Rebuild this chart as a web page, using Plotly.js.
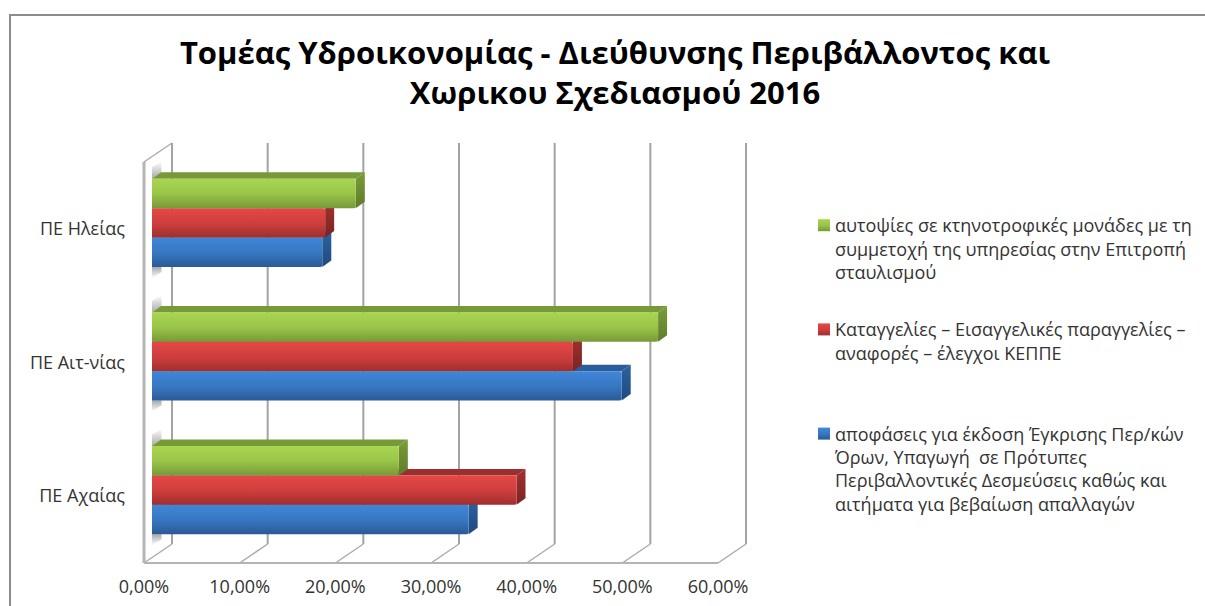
<!DOCTYPE html>
<html><head><meta charset="utf-8">
<script src="https://cdn.plot.ly/plotly-3.0.1.min.js"></script>
<style>html,body{margin:0;padding:0;background:#fff}</style></head>
<body><div id="chart" style="width:1205px;height:606px"></div>
<script>
const categories = ["ΠΕ Αχαίας", "ΠΕ Αιτ-νίας", "ΠΕ Ηλείας"];
const seriesBlue = [33.1, 49.1, 17.8];
const seriesRed = [38.1, 44.0, 18.1];
const seriesGreen = [25.8, 52.9, 21.3];
const nameBlue = "αποφάσεις για έκδοση Έγκρισης Περ/κών<br>Όρων, Υπαγωγή  σε Πρότυπες<br>Περιβαλλοντικές Δεσμεύσεις καθώς και<br>αιτήματα για βεβαίωση απαλλαγών";
const nameRed = "Καταγγελίες – Εισαγγελικές παραγγελίες –<br>αναφορές – έλεγχοι ΚΕΠΠΕ<br> ";
const nameGreen = "αυτοψίες σε κτηνοτροφικές μονάδες με τη<br>συμμετοχή της υπηρεσίας στην Επιτροπή<br>σταυλισμού";
const titleText = "Τομέας Υδροικονομίας - Διεύθυνσης Περιβάλλοντος και<br>Χωρικου Σχεδιασμού 2016";
const xTicks = [0,10,20,30,40,50,60];
const xTickLabels = ["0,00%","10,00%","20,00%","30,00%","40,00%","50,00%","60,00%"];

const W=1205,H=606,FONT='"Open Sans", sans-serif';
const pxX=60/574, pxY=3/401;
const PAD=40;
const planeX=(l,r)=>({domain:[(l-PAD)/W,(r+PAD)/W],range:[-PAD*pxX,60+PAD*pxX]});
const planeY=(t,b)=>({domain:[1-(b+PAD)/H,1-(t-PAD)/H],range:[-0.5-PAD*pxY,2.5+PAD*pxY]});
const yIdx=categories.map((_,i)=>i);
const GAP=0.34, bw=(1-GAP)/3;
const D=9*pxX, E=6.5*pxY;
const grad={
 blueF:{c:'#3a7bc8',s:['#4086d8','#3878c3','#2a5a96']},
 redF:{c:'#d94140',s:['#e44846','#cf3f3d','#9f2f2e']},
 greenF:{c:'#9fca4c',s:['#a9d551','#9ac548','#779a38']},
 blueS:{c:'#24538d',s:['#2c639f','#1f4a7e']},
 redS:{c:'#8f2a2a',s:['#a23130','#7a2423']},
 greenS:{c:'#6b8b32',s:['#7a9c38','#5f7c2c']},
 shUp:{c:'#b0b0b1',s:['#ffffff','#a8a8a8']},
 shDn:{c:'#b0b0b2',s:['#a8a8a8','#ffffff']}
};
const topCol=['#2a5d99','#9c2f2e','#779a38'];
const sideKey=['blueS','redS','greenS'];
const all=[seriesBlue,seriesRed,seriesGreen];
const shapes=[];
yIdx.forEach(c=>{
  const yT=c+1.5*bw, yB=c-1.5*bw;
  shapes.push({type:'path',xref:'x3',yref:'y3',layer:'below',line:{width:0},fillcolor:grad.shUp.c,
    path:`M0,${yT}L${D+0.5*pxX},${yT+E}L${D+0.5*pxX},${yT+E+11*pxY}L0,${yT+E+5*pxY}Z`});
  shapes.push({type:'path',xref:'x3',yref:'y3',layer:'below',line:{width:0},fillcolor:grad.shDn.c,
    path:`M0,${yB}L${D+0.5*pxX},${yB}L${D+0.5*pxX},${yB-5*pxY}L0,${yB-11*pxY}Z`});
});
all.forEach((s,si)=>{s.forEach((v,c)=>{
  const y0=c+(si-1)*bw-bw/2,y1=y0+bw;
  shapes.push({type:'path',xref:'x3',yref:'y3',layer:'below',line:{width:0},fillcolor:topCol[si],
    path:`M0,${y1}L${D},${y1+E}L${v+D},${y1+E}L${v},${y1}Z`});
  shapes.push({type:'path',xref:'x3',yref:'y3',layer:'below',line:{width:0},fillcolor:grad[sideKey[si]].c,
    path:`M${v},${y0}L${v+D},${y0+E}L${v+D},${y1+E}L${v},${y1}Z`});
});});
const wall='#ababab';
const Bx=28*pxX, By=19*pxY;
const fl=(x0,x1,y0,y1,c,w)=>shapes.push({type:'line',xref:'x',yref:'y',layer:'below',x0,x1,y0,y1,line:{color:c||wall,width:w||2}});
xTicks.forEach(t=>fl(t,t+Bx,-0.5,-0.5+By,wall,1.5));
fl(0,60,-0.5,-0.5,'#b4b4b4',2);
fl(0,0,-0.5,2.5,'#b4b4b4',3);
fl(0,Bx,2.5,2.5+By,wall,1.5);
xTicks.forEach(t=>shapes.push({type:'line',xref:'x2',yref:'y2',layer:'below',x0:t,x1:t,y0:-0.5,y1:2.5,line:{color:'#a3a3a3',width:2}}));
shapes.push({type:'rect',xref:'paper',yref:'paper',x0:10/W,x1:1300/W,y0:1-15/H,y1:-0.1,line:{color:'#8c8c8c',width:2},fillcolor:'rgba(0,0,0,0)'});

const bar=(s,name,c,g,r)=>({type:'bar',orientation:'h',x:s,y:yIdx,name:name,xaxis:'x3',yaxis:'y3',legendgroup:g,legendrank:r,
  marker:{color:c,line:{width:0},cornerradius:2},hoverinfo:'x+y'});
const traces=[bar(seriesBlue,nameBlue,grad.blueF.c,'a',3),bar(seriesRed,nameRed,grad.redF.c,'b',2),bar(seriesGreen,nameGreen,grad.greenF.c,'c',1)];
[['x','y'],['x2','y2'],['x4','y4']].forEach(a=>traces.push({type:'scatter',x:[0],y:[0],xaxis:a[0],yaxis:a[1],mode:'none',showlegend:false,hoverinfo:'skip'}));

const tickF={family:FONT,size:18,color:'#333333'};
const bare={showticklabels:false,ticks:'',showgrid:false,zeroline:false,showline:false};
const layout={width:W,height:H,margin:{l:0,r:0,t:0,b:0},paper_bgcolor:'#fff',plot_bgcolor:'rgba(0,0,0,0)',
 title:{text:titleText,font:{family:FONT,size:31,color:'#000',weight:700},x:615/W,xanchor:'center',y:1-64/H,yanchor:'middle'},
 barmode:'group',bargap:GAP,bargroupgap:0,showlegend:true,
 legend:{x:795/W,xanchor:'left',y:1-207/H,yanchor:'top',traceorder:'grouped',tracegroupgap:31,bgcolor:'rgba(0,0,0,0)',
   font:{family:FONT,size:18,color:'#333333'},itemclick:false,itemdoubleclick:false},
 xaxis:Object.assign(planeX(144,718),{anchor:'y'},bare),
 yaxis:Object.assign(planeY(162,563),{anchor:'x'},bare),
 xaxis2:Object.assign(planeX(172,746),{anchor:'y2'},bare),
 yaxis2:Object.assign(planeY(143,544),{anchor:'x2'},bare),
 xaxis3:Object.assign(planeX(152,726),{anchor:'y3'},bare),
 yaxis3:Object.assign(planeY(156,557),{anchor:'x3'},bare),
 xaxis4:{domain:[144/W,718/W],range:[0,60],anchor:'y4',tickvals:xTicks,ticktext:xTickLabels,ticks:'',showgrid:false,showline:false,zeroline:false,tickfont:tickF,ticklabelstandoff:11},
 yaxis4:{domain:[1-563/H,1-162/H],range:[-0.5,2.5],anchor:'x4',tickvals:yIdx,ticktext:categories,ticks:'',showgrid:false,showline:false,zeroline:false,tickfont:tickF,ticklabelstandoff:18},
 shapes:shapes};

function toRgb(h){const n=parseInt(h.slice(1),16);return `rgb(${n>>16}, ${(n>>8)&255}, ${n&255})`;}
Plotly.newPlot('chart',traces,layout,{displayModeBar:false}).then(gd=>{
  const NS='http://www.w3.org/2000/svg', svg=gd.querySelector('svg.main-svg');
  const defs=svg.querySelector('defs')||svg.appendChild(document.createElementNS(NS,'defs'));
  const map={};
  Object.keys(grad).forEach(k=>{
    const g=document.createElementNS(NS,'linearGradient');
    g.setAttribute('id','g-'+k);g.setAttribute('x1','0');g.setAttribute('x2','0');g.setAttribute('y1','0');g.setAttribute('y2','1');
    grad[k].s.forEach((c,i,a)=>{const st=document.createElementNS(NS,'stop');st.setAttribute('offset',i/(a.length-1));st.setAttribute('stop-color',c);g.appendChild(st);});
    defs.appendChild(g);map[toRgb(grad[k].c)]='url(#g-'+k+')';
  });
  gd.querySelectorAll('.legend .legendpoints path').forEach(p=>p.setAttribute('d','M6,6H-6V-6H6Z'));
  gd.querySelectorAll('path').forEach(p=>{const f=map[p.style.fill];if(f)p.style.fill=f;});
  gd.querySelectorAll('.legend .traces').forEach(t=>{
    const n=t.querySelectorAll('.legendtext tspan.line').length||1;
    const s=t.querySelector('.legendsymbols');
    if(s)s.setAttribute('transform',`translate(9,${-(n-1)*23.4/2})`);
  });
});
</script></body></html>
